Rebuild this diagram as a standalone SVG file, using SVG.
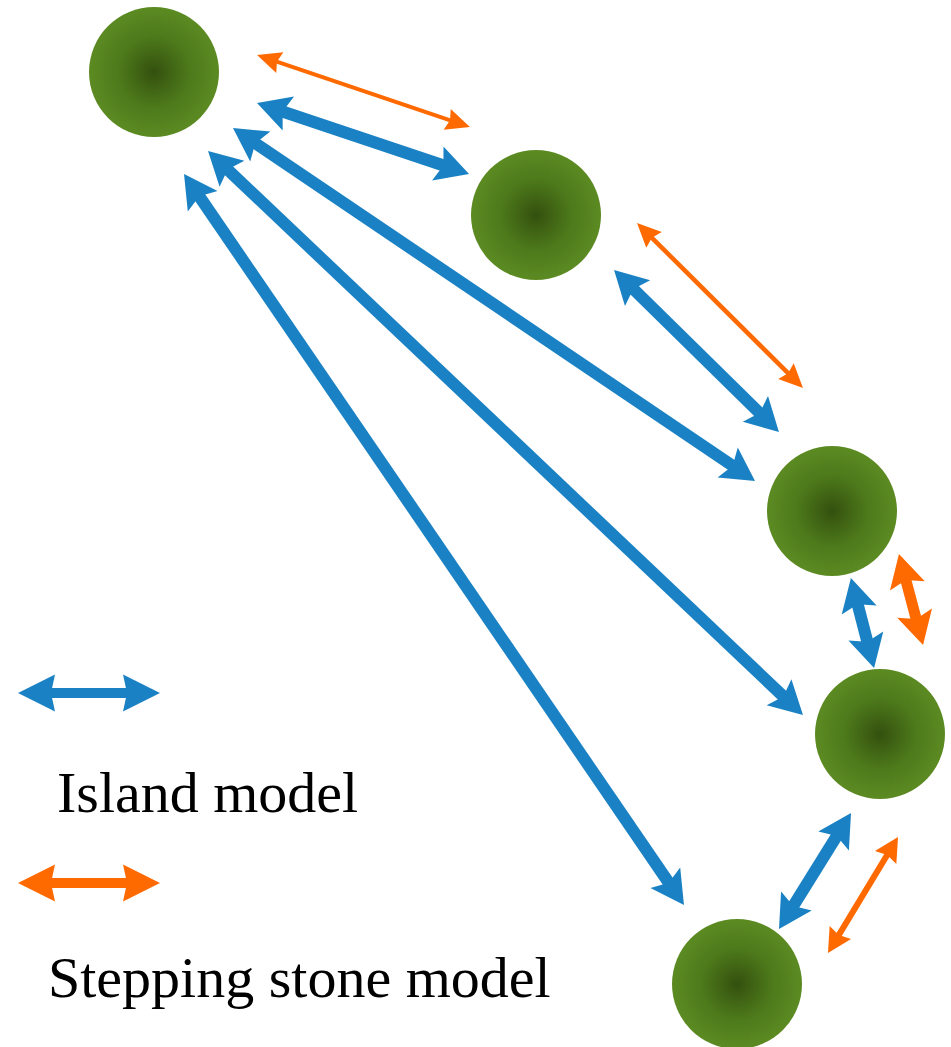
<svg xmlns="http://www.w3.org/2000/svg" width="951" height="1047" viewBox="0 0 951 1047">
  <defs>
    <radialGradient id="g" cx="50%" cy="50%" r="50%">
      <stop offset="0" stop-color="#34500e"/>
      <stop offset="0.55" stop-color="#4d7a1b"/>
      <stop offset="1" stop-color="#5c8a22"/>
    </radialGradient>
    <marker id="mb" markerUnits="userSpaceOnUse" orient="auto-start-reverse" refX="6" refY="0" markerWidth="40" markerHeight="40" viewBox="0 -20 40 40" overflow="visible">
      <path d="M-1,-18 L32,0 L-1,18 L5,0 z" fill="#1a82c4"/>
    </marker>
    <marker id="mob" markerUnits="userSpaceOnUse" orient="auto-start-reverse" refX="6" refY="0" markerWidth="40" markerHeight="40" viewBox="0 -20 40 40" overflow="visible">
      <path d="M-1,-18 L32,0 L-1,18 L5,0 z" fill="#ff6a00"/>
    </marker>
    <marker id="mo" markerUnits="userSpaceOnUse" orient="auto-start-reverse" refX="4" refY="0" markerWidth="30" markerHeight="30" viewBox="0 -15 30 30" overflow="visible">
      <path d="M0,-11 L24,0 L0,11 L3,0 z" fill="#ff6a00"/>
    </marker>
    <marker id="mo2" markerUnits="userSpaceOnUse" orient="auto-start-reverse" refX="4" refY="0" markerWidth="30" markerHeight="30" viewBox="0 -15 30 30" overflow="visible">
      <path d="M0,-12.5 L24,0 L0,12.5 L3,0 z" fill="#ff6a00"/>
    </marker>
    <marker id="mlb" markerUnits="userSpaceOnUse" orient="auto-start-reverse" refX="6" refY="0" markerWidth="44" markerHeight="44" viewBox="0 -22 44 44" overflow="visible">
      <path d="M0,-18.5 L37,0 L0,18.5 L4,0 z" fill="#1a82c4"/>
    </marker>
    <marker id="mlo" markerUnits="userSpaceOnUse" orient="auto-start-reverse" refX="6" refY="0" markerWidth="44" markerHeight="44" viewBox="0 -22 44 44" overflow="visible">
      <path d="M0,-18.5 L37,0 L0,18.5 L4,0 z" fill="#ff6a00"/>
    </marker>
  </defs>
  <style>
    .node { fill: url(#g); }
    .b { stroke: #1a82c4; stroke-width: 12; fill: none; marker-start: url(#mb); marker-end: url(#mb); }
    .ob { stroke: #ff6a00; stroke-width: 11; fill: none; marker-start: url(#mob); marker-end: url(#mob); }
    .o { stroke: #ff6a00; stroke-width: 4; fill: none; marker-start: url(#mo); marker-end: url(#mo); }
    .o2 { stroke: #ff6a00; stroke-width: 6; fill: none; marker-start: url(#mo2); marker-end: url(#mo2); }
    .lb { stroke: #1a82c4; stroke-width: 10; fill: none; marker-start: url(#mlb); marker-end: url(#mlb); }
    .lo { stroke: #ff6a00; stroke-width: 10; fill: none; marker-start: url(#mlo); marker-end: url(#mlo); }
    .t { font-family: "Liberation Serif", "Times New Roman", serif; font-size: 58px; fill: #000; }
  </style>
  <rect width="951" height="1047" fill="#fff"/>
  <g id="n1"><circle class="node" cx="154" cy="72" r="65"/></g>
  <g id="n2"><circle class="node" cx="536" cy="215" r="65"/></g>
  <g id="n3"><circle class="node" cx="832" cy="511" r="65"/></g>
  <g id="n4"><circle class="node" cx="880" cy="734" r="65"/></g>
  <g id="n5"><circle class="node" cx="737" cy="984" r="65"/></g>
  <g id="connectors">
    <line class="o" x1="276" y1="61.4" x2="451" y2="120.6"/>
    <line class="b" x1="281.7" y1="111.3" x2="444.4" y2="165.7"/>
    <line class="b" x1="254.5" y1="142.6" x2="733.5" y2="466.4"/>
    <line class="b" x1="226.9" y1="168.9" x2="784.1" y2="697.1"/>
    <line class="b" x1="198.7" y1="195.5" x2="669.3" y2="883.5"/>
    <line class="o" x1="651.2" y1="237.1" x2="788.8" y2="373.9" style="stroke-width:4.5"/>
    <line class="b" x1="632.6" y1="288.2" x2="760.4" y2="413.8"/>
    <line class="b" x1="857.4" y1="603.2" x2="867.6" y2="642.8"/>
    <line class="ob" x1="905.6" y1="579.1" x2="916.4" y2="619.9"/>
    <line class="b" x1="837.3" y1="835.1" x2="792.7" y2="906.9"/>
    <line class="o2" x1="887.7" y1="854.1" x2="838.3" y2="935.9"/>
  </g>
  <g id="legend">
    <line class="lb" x1="49" y1="693" x2="129" y2="693"/>
    <text class="t" x="57" y="812">Island model</text>
    <line class="lo" x1="49" y1="883" x2="129" y2="883"/>
    <text class="t" x="48" y="997">Stepping stone model</text>
  </g>
</svg>
